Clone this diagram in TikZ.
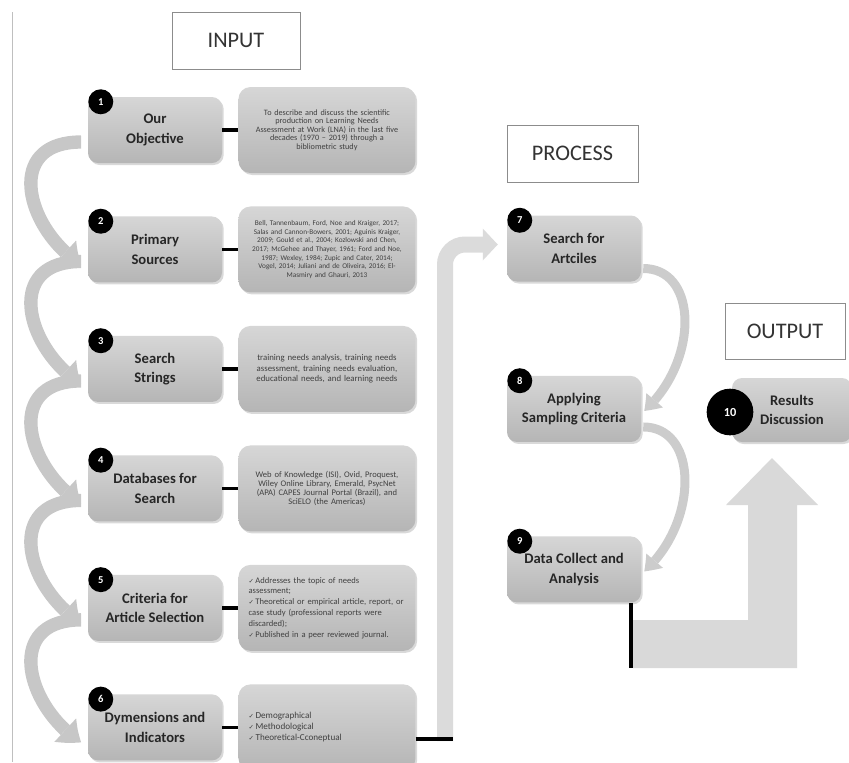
\documentclass[tikz,border=0pt]{standalone}
\usepackage{fontspec}
\setmainfont{Carlito}
\newfontfamily\symfont{DejaVu Sans}
\newcommand\chk{{\symfont\fontsize{5.5}{7}\selectfont ✓}\,}
\usetikzlibrary{arrows.meta,bending,positioning,shadows}

\begin{document}
\begin{tikzpicture}[x=0.3mm,y=-0.3mm,
  head/.style={draw=black!45,line width=0.3mm,minimum width=38.4mm,minimum height=17.1mm,
    font=\fontsize{19}{22}\selectfont,text=black!80},
  stage/.style={rounded corners=3mm,top color=black!16,bottom color=black!29,
    drop shadow={shadow xshift=0.5mm,shadow yshift=-0.6mm,opacity=0.3},
    minimum width=40.2mm,minimum height=19.8mm,align=center,
    font=\bfseries\fontsize{12.5}{16.5}\selectfont,text=black!85},
  note/.style={stage,rounded corners=3.6mm,minimum width=53.1mm,minimum height=25.8mm,
    text width=47mm,font=\fontsize{7.3}{8.6}\selectfont,text=black!75},
  badge/.style={circle,fill=black,text=white,inner sep=0pt,minimum size=7.5mm,
    font=\bfseries\fontsize{9}{9}\selectfont},
  link/.style={line width=1.1mm},
  flow/.style={line width=4mm,draw=black!22,-{Triangle[length=6mm,width=9.6mm,line width=0pt,bend]}},
  swing/.style={line width=2.7mm,draw=black!20,-{Triangle[length=4.5mm,width=6.6mm,line width=0pt,bend]}},
  band/.style={line width=4.8mm,draw=black!14,-{Triangle[length=4.5mm,width=9.6mm,line width=0pt]}}]
  \useasboundingbox (0,0) rectangle (849,762);
  \draw[black!25] (12,12) -- (12,762);

  % input
  \node[head] (hin) at (236,40.5) {INPUT};
  \node[stage] (s1) at (155,130) {Our\\Objective};
  \node[stage,below=15.9mm of s1] (s2) {Primary\\Sources};
  \node[stage,below=15.9mm of s2] (s3) {Search\\Strings};
  \node[stage,below=15.9mm of s3] (s4) {Databases for\\Search};
  \node[stage,below=15.9mm of s4] (s5) {Criteria for\\Article Selection};
  \node[stage,below=15.9mm of s5] (s6) {Dymensions and\\Indicators};

  \node[note,align=center,right=4.8mm of s1,font=\fontsize{7}{7.2}\selectfont] (n1) {To describe and discuss the scientific\\production on Learning Needs\\Assessment at Work (LNA) in the last five\\decades (1970 -- 2019) through a\\bibliometric study};
  \node[note,align=center,right=4.8mm of s2,font=\fontsize{6.2}{7.4}\selectfont] (n2) {Bell, Tannenbaum, Ford, Noe and Kraiger, 2017;\\Salas and Cannon-Bowers, 2001; Aguinis Kraiger,\\2009; Gould et al., 2004; Kozlowski and Chen,\\2017; McGehee and Thayer, 1961; Ford and Noe,\\1987; Wexley, 1984; Zupic and Cater, 2014;\\Vogel, 2014; Juliani and de Oliveira, 2016; El-\\Masmiry and Ghauri, 2013};
  \node[note,align=center,right=4.8mm of s3,font=\fontsize{7.5}{9}\selectfont] (n3) {training needs analysis, training needs\\assessment, training needs evaluation,\\educational needs, and learning needs};
  \node[note,align=center,right=4.8mm of s4,font=\fontsize{7.3}{7.6}\selectfont] (n4) {Web of Knowledge (ISI), Ovid, Proquest,\\Wiley Online Library, Emerald, PsycNet\\(APA) CAPES Journal Portal (Brazil), and\\SciELO (the Americas)};
  \node[note,align=left,right=4.8mm of s5,font=\fontsize{7.3}{9.2}\selectfont] (n5) {\chk Addresses the topic of needs\\assessment;\\\chk Theoretical or empirical article, report, or\\case study (professional reports were\\discarded);\\\chk Published in a peer reviewed journal.};
  \node[note,align=left,right=4.8mm of s6,font=\fontsize{7.8}{9.4}\selectfont] (n6) {\chk Demographical\\\chk Methodological\\\chk Theoretical-Cconeptual};

  \foreach \i in {1,...,6} \draw[link] (s\i) -- (n\i);
  \foreach \i/\j in {1/2,2/3,3/4,4/5,5/6}
    \draw[flow] ([xshift=-2mm,yshift=-3.6mm]s\i.west) .. controls +(-78,0) and +(-55,-35) .. ([xshift=-2mm,yshift=-4.5mm]s\j.west);

  % process
  \node[head,minimum width=39.3mm] (hpro) at (572.5,153.5) {PROCESS};
  \node[stage] (s7) at (574,248.5) {Search for\\Artciles};
  \node[stage,below=28.2mm of s7] (s8) {Applying\\Sampling Criteria};
  \node[stage,below=28.2mm of s8] (s9) {Data Collect and\\Analysis};

  \coordinate (foot) at (453,739);
  \draw[band,rounded corners=6mm] ([xshift=-2.4mm,yshift=-0.6mm]foot) |- ([xshift=-2.7mm,yshift=1.2mm]s7.west);
  \draw[link] (n6.east |- foot) -- (foot);

  \draw[swing] ([xshift=0.6mm,yshift=-6mm]s7.east) .. controls +(55,0) and +(55,-50) .. ([xshift=0.9mm,yshift=-0.6mm]s8.east);
  \draw[swing] ([xshift=0.6mm,yshift=-5.4mm]s8.east) .. controls +(55,0) and +(55,-50) .. ([xshift=0.9mm,yshift=-0.6mm]s9.east);

  % output
  \node[head,minimum width=36mm,minimum height=16.8mm] (hout) at (785,331) {OUTPUT};
  \fill[black!15] (633,620) -- (748,620) -- (748,505) -- (726,505) -- (772,458) -- (818,505)
    -- (797,505) -- (797,668) -- (633,668) -- cycle;
  \coordinate (knee) at (632,668);
  \draw[link] ([xshift=-3mm]s9.south east) -- ([xshift=-3mm]s9.south east |- knee);
  \node[stage,minimum width=36mm,minimum height=19.2mm] (s10) at (792,410) {Results\\Discussion};

  \foreach \i in {1,...,9} \node[badge] (b\i) at ([xshift=3.9mm,yshift=-1.5mm]s\i.north west) {\i};
  \node[badge,minimum size=14mm,font=\bfseries\fontsize{10.5}{10.5}\selectfont] (b10) at (730,412) {10};
\end{tikzpicture}
\end{document}
